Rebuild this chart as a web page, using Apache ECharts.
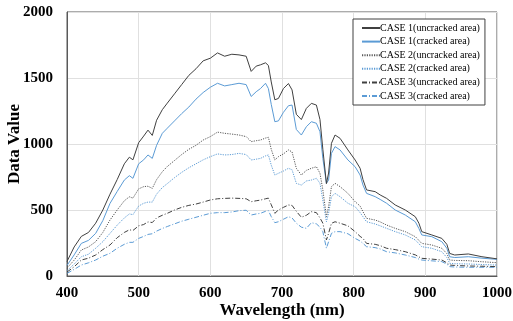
<!DOCTYPE html>
<html><head><meta charset="utf-8">
<script src="https://cdn.jsdelivr.net/npm/echarts@6/dist/echarts.min.js"></script>
<style>html,body{margin:0;padding:0;background:#fff}#c{width:513px;height:321px}</style>
</head><body><div id="c"></div>
<script>
const wavelengths = [400,410,420,430,440,450,460,470,480,487,492,500,507,513,519,525,533,540,550,560,570,580,590,600,610,620,630,640,650,657,664,670,677,681,685,690,695,702,709,714,720,727,734,741,748,753,757,762,765,769,774,781,792,802,809,813,818,830,837,846,858,872,886,891,895,909,923,930,934,941,960,979,1000];
const case1Uncracked = [110,220,300,330,400,500,620,730,850,900,880,1010,1060,1105,1065,1180,1260,1310,1380,1450,1520,1570,1630,1650,1690,1665,1680,1675,1665,1550,1590,1600,1615,1595,1470,1335,1345,1420,1458,1410,1225,1185,1270,1308,1295,1185,960,700,780,1005,1068,1043,955,879,816,730,652,639,614,588,538,500,449,400,336,311,285,240,171,159,167,146,130];
const case1Cracked = [80,160,247,270,323,420,550,640,727,760,740,850,880,917,891,990,1081,1120,1175,1230,1280,1340,1390,1430,1460,1440,1450,1460,1450,1360,1396,1420,1460,1420,1300,1169,1175,1240,1290,1295,1110,1068,1131,1169,1157,1093,891,702,727,929,980,955,879,828,765,689,626,601,580,551,500,462,411,360,311,298,260,210,146,140,146,135,126];
const case2Uncracked = [60,120,197,220,260,330,424,500,570,600,590,660,677,680,664,730,790,830,875,920,960,990,1030,1056,1090,1081,1075,1068,1056,1018,1025,1030,1045,1051,960,879,904,925,955,940,816,765,800,816,828,778,652,449,525,677,702,677,626,563,530,487,437,424,410,386,361,336,298,270,247,235,210,170,121,118,116,108,101];
const case2Cracked = [40,90,146,165,210,260,323,385,440,470,465,530,551,560,560,620,670,700,745,785,820,850,880,904,925,917,920,929,920,879,885,891,910,917,840,765,778,795,816,805,702,689,720,727,740,702,576,411,475,601,626,601,551,525,480,449,411,394,380,361,336,311,273,245,222,210,184,140,96,93,91,87,83];
const case3Uncracked = [30,70,121,135,159,200,235,290,330,350,345,380,390,410,405,440,460,475,500,520,535,545,560,576,585,588,590,588,585,563,570,575,585,590,540,475,500,520,538,535,490,445,460,487,480,440,400,273,323,399,411,400,380,336,300,285,247,240,230,210,200,184,160,145,134,128,121,100,83,80,76,74,71];
const case3Cracked = [20,50,83,100,121,150,172,210,240,255,255,285,300,315,320,340,360,375,395,415,430,445,460,475,480,480,485,495,498,462,470,475,490,495,450,404,411,430,449,440,400,370,361,404,395,370,336,210,260,323,336,336,320,285,265,247,222,215,205,184,175,159,140,128,121,115,109,90,71,68,66,66,66];
const seriesNames = ['CASE 1(uncracked area)','CASE 1(cracked area)','CASE 2(uncracked area)','CASE 2(cracked area)','CASE 3(uncracked area)','CASE 3(cracked area)'];
const xTicks = [400,500,600,700,800,900,1000];
const yTicks = [0,500,1000,1500,2000];

const allValues = [case1Uncracked, case1Cracked, case2Uncracked, case2Cracked, case3Uncracked, case3Cracked];
const styles = [
  {color:'#404040', type:'solid', width:1},
  {color:'#5b9bd5', type:'solid', width:1},
  {color:'#595959', type:[1.2,1.2], width:1},
  {color:'#5b9bd5', type:[1.2,1.2], width:1},
  {color:'#404040', type:[5,2,1,2], width:1},
  {color:'#5b9bd5', type:[5,2,1,2], width:1}
];
const font = 'Liberation Serif';
const chart = echarts.init(document.getElementById('c'), null, {renderer:'canvas'});
chart.setOption({
  animation:false,
  backgroundColor:'#fff',
  grid:{left:67,right:16,top:12,bottom:45,containLabel:false,outerBoundsMode:'none',show:true,borderColor:'#595959',borderWidth:1},
  legend:{
    orient:'vertical', left:353, top:19,
    padding:[4,5,4,8], itemGap:3.6, itemWidth:18, itemHeight:11,
    borderColor:'#404040', borderWidth:1, backgroundColor:'#fff',
    itemStyle:{opacity:0},
    textStyle:{fontFamily:font, fontSize:10, color:'#000', padding:[0,0,0,-5]},
    data:seriesNames
  },
  xAxis:{
    type:'value', min:xTicks[0], max:xTicks[xTicks.length-1], interval:100,
    name:'Wavelength (nm)', nameLocation:'middle', nameGap:26, nameMoveOverlap:false,
    nameTextStyle:{fontFamily:font, fontSize:17, fontWeight:'bold', color:'#000'},
    axisLine:{show:true, lineStyle:{color:'#595959'}},
    axisTick:{show:false},
    axisLabel:{fontFamily:font, fontSize:15, fontWeight:'bold', color:'#000', margin:10, formatter:v=>String(v)},
    splitLine:{show:true, lineStyle:{color:'#e0e0e0', width:1}}
  },
  yAxis:{
    type:'value', min:yTicks[0], max:yTicks[yTicks.length-1], interval:500,
    name:'Data Value', nameLocation:'middle', nameGap:44, nameMoveOverlap:false,
    nameTextStyle:{fontFamily:font, fontSize:17, fontWeight:'bold', color:'#000'},
    axisLine:{show:true, lineStyle:{color:'#595959'}},
    axisTick:{show:false},
    axisLabel:{fontFamily:font, fontSize:15, fontWeight:'bold', color:'#000', margin:14, formatter:v=>String(v)},
    splitLine:{show:true, lineStyle:{color:'#e0e0e0', width:1}}
  },
  series: seriesNames.map((n,i)=>({
    name:n, type:'line', symbol:'none', showSymbol:false,
    data: wavelengths.map((w,j)=>[w, allValues[i][j]]),
    lineStyle:styles[i], itemStyle:{color:styles[i].color},
    z: 10-i
  }))
});
</script></body></html>
